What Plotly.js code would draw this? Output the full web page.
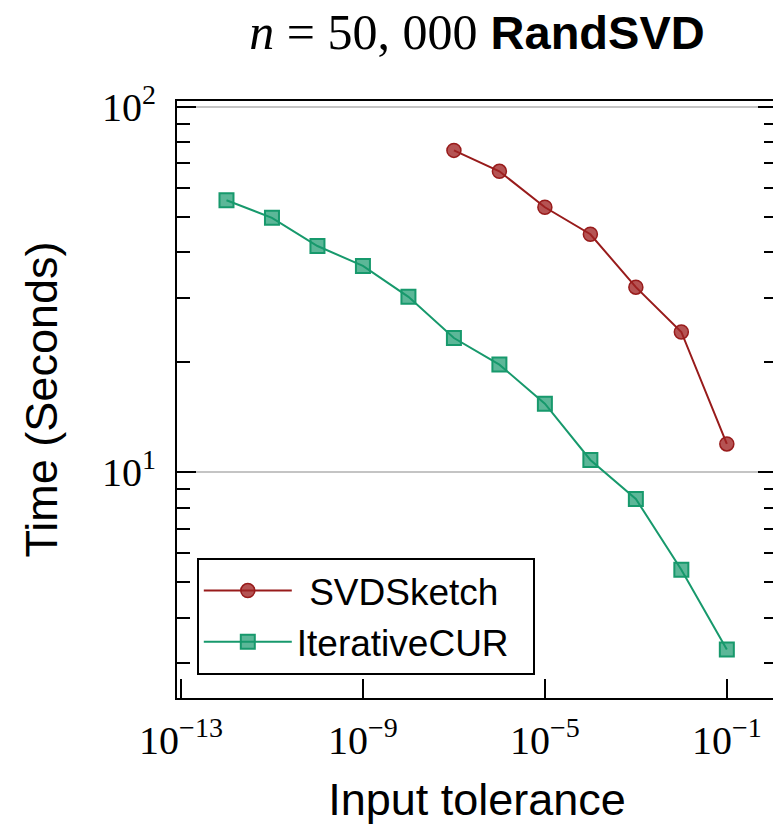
<!DOCTYPE html>
<html>
<head>
<meta charset="utf-8">
<script src="https://cdn.plot.ly/plotly-3.0.1.min.js"></script>
<style>
html, body { margin: 0; padding: 0; overflow: hidden; background: #fff; }
#chart { width: 780px; height: 828px; }
</style>
</head>
<body>
<div id="chart"></div>
<script>
// ---- data ----
const svdTol = [1e-7, 1e-6, 1e-5, 1e-4, 1e-3, 1e-2, 1e-1];
const svdTime = [76.0, 66.6, 53.1, 44.8, 32.1, 24.2, 11.95];
const curTol = [1e-12, 1e-11, 1e-10, 1e-9, 1e-8, 1e-7, 1e-6, 1e-5, 1e-4, 1e-3, 1e-2, 1e-1];
const curTime = [55.5, 49.7, 41.6, 36.7, 30.2, 23.3, 19.7, 15.4, 10.8, 8.45, 5.41, 3.27];
const xTickVals = [1e-13, 1e-9, 1e-5, 1e-1];
const xTickText = ['10<sup>\u221213</sup>', '10<sup>\u22129</sup>', '10<sup>\u22125</sup>', '10<sup>\u22121</sup>'];
const yTickVals = [10, 100];
const yTickText = ['10<sup>1</sup>', '10<sup>2</sup>'];
const yMinorVals = [3, 4, 5, 6, 7, 8, 9, 20, 30, 40, 50, 60, 70, 80, 90];
const seriesNames = ['\u2004SVDSketch', 'IterativeCUR\u2002'];

const red = '#981b1b';
const green = '#17996c';

const traces = [
  {
    x: svdTol, y: svdTime, name: seriesNames[0], type: 'scatter', mode: 'lines+markers',
    line: { color: red, width: 2 },
    marker: { symbol: 'circle', size: 14, color: 'rgba(160,35,35,0.78)', line: { color: red, width: 1.5 } }
  },
  {
    x: curTol, y: curTime, name: seriesNames[1], type: 'scatter', mode: 'lines+markers',
    line: { color: green, width: 2 },
    marker: { symbol: 'square', size: 14, color: 'rgba(23,153,108,0.7)', line: { color: green, width: 2 } }
  }
];

const serif = 'Liberation Serif, DejaVu Serif, serif';
const sans = 'Liberation Sans, Arial, sans-serif';

const layout = {
  width: 780, height: 828,
  margin: { l: 177, r: 3, t: 101, b: 130 },
  paper_bgcolor: '#fff', plot_bgcolor: '#fff',
  showlegend: true,
  title: {
    text: '<span style="font-family:Liberation Serif;font-size:50px"><i>n</i> = 50, 000</span> <b>RandSVD</b>',
    font: { family: sans, size: 47, color: '#000' },
    x: 0.5, xref: 'paper', xanchor: 'center',
    y: 1 - 33 / 828, yref: 'container', yanchor: 'middle'
  },
  xaxis: {
    type: 'log', range: [-13.088, 0.103],
    tickmode: 'array', tickvals: xTickVals, ticktext: xTickText,
    ticks: 'inside', ticklen: 19, tickwidth: 2, tickcolor: '#000',
    ticklabelstandoff: 6,
    showline: true, linecolor: '#000', linewidth: 2, mirror: true,
    showgrid: false, zeroline: false,
    tickfont: { family: serif, size: 40, color: '#000' },
    title: { text: 'Input tolerance', font: { family: sans, size: 45, color: '#000' }, standoff: 21 },
    automargin: false
  },
  yaxis: {
    type: 'log', range: [0.382, 2.016],
    tickmode: 'array', tickvals: yTickVals, ticktext: yTickText,
    ticks: 'inside', ticklen: 19, tickwidth: 2, tickcolor: '#000',
    ticklabelstandoff: 11,
    minor: { tickmode: 'array', tickvals: yMinorVals, ticks: 'inside', ticklen: 13, tickwidth: 2, tickcolor: '#000', showgrid: false },
    showline: true, linecolor: '#000', linewidth: 2, mirror: 'ticks',
    showgrid: true, gridcolor: '#c4c4c4', gridwidth: 2.5,
    zeroline: false,
    tickfont: { family: serif, size: 40, color: '#000' },
    title: { text: 'Time (Seconds)', font: { family: sans, size: 45, color: '#000' }, standoff: 30 },
    automargin: false
  },
  legend: {
    x: 0.033, y: 0.2345, xanchor: 'left', yanchor: 'top',
    bgcolor: '#fff', bordercolor: '#000', borderwidth: 2,
    font: { family: sans, size: 37, color: '#000' },
    itemwidth: 88
  }
};

Plotly.newPlot('chart', traces, layout, { displayModeBar: false, staticPlot: true });
</script>
</body>
</html>
